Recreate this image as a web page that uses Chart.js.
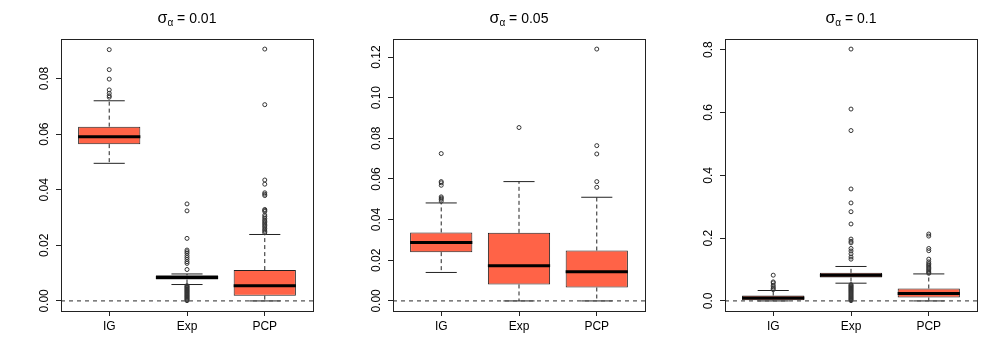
<!DOCTYPE html>
<html>
<head>
<meta charset="utf-8">
<script src="https://cdn.jsdelivr.net/npm/chart.js@4.4.1/dist/chart.umd.min.js"></script>
<style>
  body { margin:0; background:#fff; width:997px; height:362px; position:relative; overflow:hidden; font-family:"Liberation Sans", Arial, sans-serif; }
  .panel { position:absolute; top:0; width:332px; height:362px; }
  .ttl { position:absolute; top:11px; left:61px; width:252px; text-align:center; font-size:14px; line-height:14px; color:#000; white-space:nowrap; }
  .ttl .sg { font-size:16px; }
  .ttl sub { font-size:10px; vertical-align:-3px; line-height:0; }
</style>
</head>
<body>
<div class="panel" style="left:0px"><canvas id="c1" width="332" height="362"></canvas><div class="ttl"><span class="sg">σ</span><sub>α</sub> = 0.01</div></div>
<div class="panel" style="left:332px"><canvas id="c2" width="332" height="362"></canvas><div class="ttl"><span class="sg">σ</span><sub>α</sub> = 0.05</div></div>
<div class="panel" style="left:664px"><canvas id="c3" width="332" height="362"></canvas><div class="ttl"><span class="sg">σ</span><sub>α</sub> = 0.1</div></div>
<script>
const categories = ["IG", "Exp", "PCP"];

// box stats per category: [lower whisker, Q1, median, Q3, upper whisker]
// sigma_alpha = 0.01
const s01Stats = [[0.0495, 0.0564, 0.0591, 0.0627, 0.0720], [0.0059, 0.0077, 0.0084, 0.0092, 0.0097], [0.0, 0.0019, 0.0055, 0.0111, 0.0239]];
const s01OutIG = [0.0904, 0.0832, 0.0798, 0.0759, 0.0747, 0.0738, 0.0733];
const s01OutExp = [0.0349, 0.0324, 0.0225, 0.0183, 0.0177, 0.0171, 0.0163, 0.0156, 0.0149, 0.0141, 0.0135, 0.0113,
  0.0055, 0.0052, 0.0049, 0.0046, 0.0043, 0.0040, 0.0037, 0.0034, 0.0031, 0.0028, 0.0025, 0.0022, 0.0019, 0.0016, 0.0013, 0.0010, 0.0007, 0.0004, 0.0001];
const s01OutPCP = [0.0906, 0.0706, 0.0435, 0.0420, 0.0389, 0.0384, 0.0379, 0.0329, 0.0326, 0.0322, 0.0309, 0.0303, 0.0297, 0.0291, 0.0286, 0.0281, 0.0276, 0.0271, 0.0266, 0.0260, 0.0255, 0.0250, 0.0245];
const s01Ticks = [0, 0.02, 0.04, 0.06, 0.08];
const s01TickLabels = ["0.00", "0.02", "0.04", "0.06", "0.08"];

// sigma_alpha = 0.05
const s05Stats = [[0.0140, 0.0240, 0.0288, 0.0337, 0.0482], [0.0, 0.0081, 0.0173, 0.0335, 0.0587], [0.0, 0.0066, 0.0143, 0.0248, 0.0510]];
const s05OutIG = [0.0725, 0.0587, 0.0581, 0.0569, 0.0512, 0.0506, 0.0500, 0.0491];
const s05OutExp = [0.0853];
const s05OutPCP = [0.1239, 0.0764, 0.0723, 0.0587, 0.0559];
const s05Ticks = [0, 0.02, 0.04, 0.06, 0.08, 0.10, 0.12];
const s05TickLabels = ["0.00", "0.02", "0.04", "0.06", "0.08", "0.10", "0.12"];

// sigma_alpha = 0.1
const s10Stats = [[0.0, 0.0022, 0.0096, 0.0172, 0.0332], [0.0565, 0.0745, 0.0820, 0.0894, 0.1097], [0.0, 0.0108, 0.0236, 0.0396, 0.0860]];
const s10OutIG = [0.082, 0.0606, 0.0574, 0.050, 0.0447, 0.040, 0.036];
const s10OutExp = [0.802, 0.611, 0.5425, 0.3565, 0.312, 0.284, 0.245, 0.197, 0.190, 0.185, 0.167, 0.159, 0.150, 0.140, 0.133,
  0.052, 0.049, 0.046, 0.043, 0.040, 0.037, 0.034, 0.031, 0.028, 0.025, 0.022, 0.019, 0.016, 0.013, 0.010, 0.007, 0.004, 0.001];
const s10OutPCP = [0.213, 0.2065, 0.167, 0.160, 0.133, 0.1245, 0.119, 0.115, 0.111, 0.107, 0.103, 0.099, 0.095, 0.091, 0.088];
const s10Ticks = [0, 0.2, 0.4, 0.6, 0.8];
const s10TickLabels = ["0.0", "0.2", "0.4", "0.6", "0.8"];

const FONT = '"Liberation Sans", Arial, sans-serif';
const BOX_FILL = "#FF6347";
const INK = "#222";

function textWidth(s){
  const ctx = document.createElement("canvas").getContext("2d");
  ctx.font = "12px " + FONT;
  return ctx.measureText(s).width;
}

const frame = {
  id: "frame",
  afterDraw(chart){
    const a = chart.chartArea, ctx = chart.ctx;
    ctx.save(); ctx.strokeStyle = INK; ctx.lineWidth = 1;
    ctx.strokeRect(Math.round(a.left) + 0.5, Math.round(a.top) + 0.5, Math.round(a.right - a.left), Math.round(a.bottom - a.top));
    ctx.restore();
  }
};

function segs(list){
  // list of [[x1,y1],[x2,y2]] -> points with gaps
  const out = [];
  list.forEach((s, i) => {
    if (i) out.push({ x: s[0][0], y: null });
    out.push({ x: s[0][0], y: s[0][1] }, { x: s[1][0], y: s[1][1] });
  });
  return out;
}

function makePanel(id, stats, outs, ticks, tickLabels){
  const all = stats.flat().concat(outs.flat());
  const lo = Math.min(...all), hi = Math.max(...all), ext = (hi - lo) * 0.04;
  const widest = Math.max(...tickLabels.map(textWidth));

  const boxes = stats.map((s, i) => ({ x: i + 1, y: [s[1], s[3]] }));
  const medians = segs(stats.map((s, i) => [[i + 0.6, s[2]], [i + 1.4, s[2]]]));
  const caps = segs(stats.flatMap((s, i) => [[[i + 0.8, s[0]], [i + 1.2, s[0]]], [[i + 0.8, s[4]], [i + 1.2, s[4]]]]));
  const whisk = segs(stats.flatMap((s, i) => [[[i + 1, s[3]], [i + 1, s[4]]], [[i + 1, s[1]], [i + 1, s[0]]]]));
  const pts = outs.flatMap((arr, i) => arr.map(v => ({ x: i + 1, y: v })));

  const line = { type: "line", pointRadius: 0, pointHoverRadius: 0, spanGaps: false, fill: false, tension: 0 };
  new Chart(document.getElementById(id), {
    type: "line",
    data: { datasets: [
      Object.assign({}, line, { data: [{ x: 0.38, y: 0 }, { x: 3.62, y: 0 }], borderColor: "#555", borderWidth: 1.3, borderDash: [4, 4], order: -1 }),
      { type: "line", data: pts, showLine: false, pointRadius: 2, pointBorderWidth: 1, pointBorderColor: "#333", pointBackgroundColor: "rgba(0,0,0,0)", order: 0 },
      Object.assign({}, line, { data: medians, borderColor: "#000", borderWidth: 3, order: 1 }),
      Object.assign({}, line, { data: caps, borderColor: INK, borderWidth: 1, order: 2 }),
      Object.assign({}, line, { data: whisk, borderColor: INK, borderWidth: 1, borderDash: [4, 3], order: 3 }),
      { type: "bar", data: boxes, backgroundColor: BOX_FILL, borderColor: INK, borderWidth: 1, borderSkipped: false, barPercentage: 0.8, categoryPercentage: 1, order: 4 }
    ]},
    options: {
      responsive: false, animation: false, devicePixelRatio: 1,
      events: [],
      layout: { padding: { left: 21, right: 19, top: 39, bottom: 21 } },
      plugins: { legend: { display: false }, tooltip: { enabled: false }, title: { display: false } },
      scales: {
        x: {
          type: "linear", min: 0.38, max: 3.62, offset: false,
          afterBuildTicks: s => { s.ticks = categories.map((c, i) => ({ value: i + 1 })); },
          afterFit: s => { s.height = 30; },
          ticks: { callback: (v, i) => categories[i], autoSkip: false, maxRotation: 0, padding: 3, color: "#000", font: { size: 12, family: FONT } },
          grid: { drawOnChartArea: false, drawTicks: true, tickLength: 5, color: INK, offset: false },
          border: { display: true, color: INK }
        },
        y: {
          type: "linear", min: lo - ext, max: hi + ext,
          afterBuildTicks: s => { s.ticks = ticks.map(v => ({ value: v })); },
          afterFit: s => { s.width = 40; },
          ticks: { callback: (v, i) => tickLabels[i], autoSkip: false, minRotation: 90, maxRotation: 90, crossAlign: "center", padding: 11 - widest / 2, color: "#000", font: { size: 12, family: FONT } },
          grid: { drawOnChartArea: false, drawTicks: true, tickLength: 5, color: INK },
          border: { display: true, color: INK }
        }
      }
    },
    plugins: [frame]
  });
}

makePanel("c1", s01Stats, [s01OutIG, s01OutExp, s01OutPCP], s01Ticks, s01TickLabels);
makePanel("c2", s05Stats, [s05OutIG, s05OutExp, s05OutPCP], s05Ticks, s05TickLabels);
makePanel("c3", s10Stats, [s10OutIG, s10OutExp, s10OutPCP], s10Ticks, s10TickLabels);
</script>
</body>
</html>
